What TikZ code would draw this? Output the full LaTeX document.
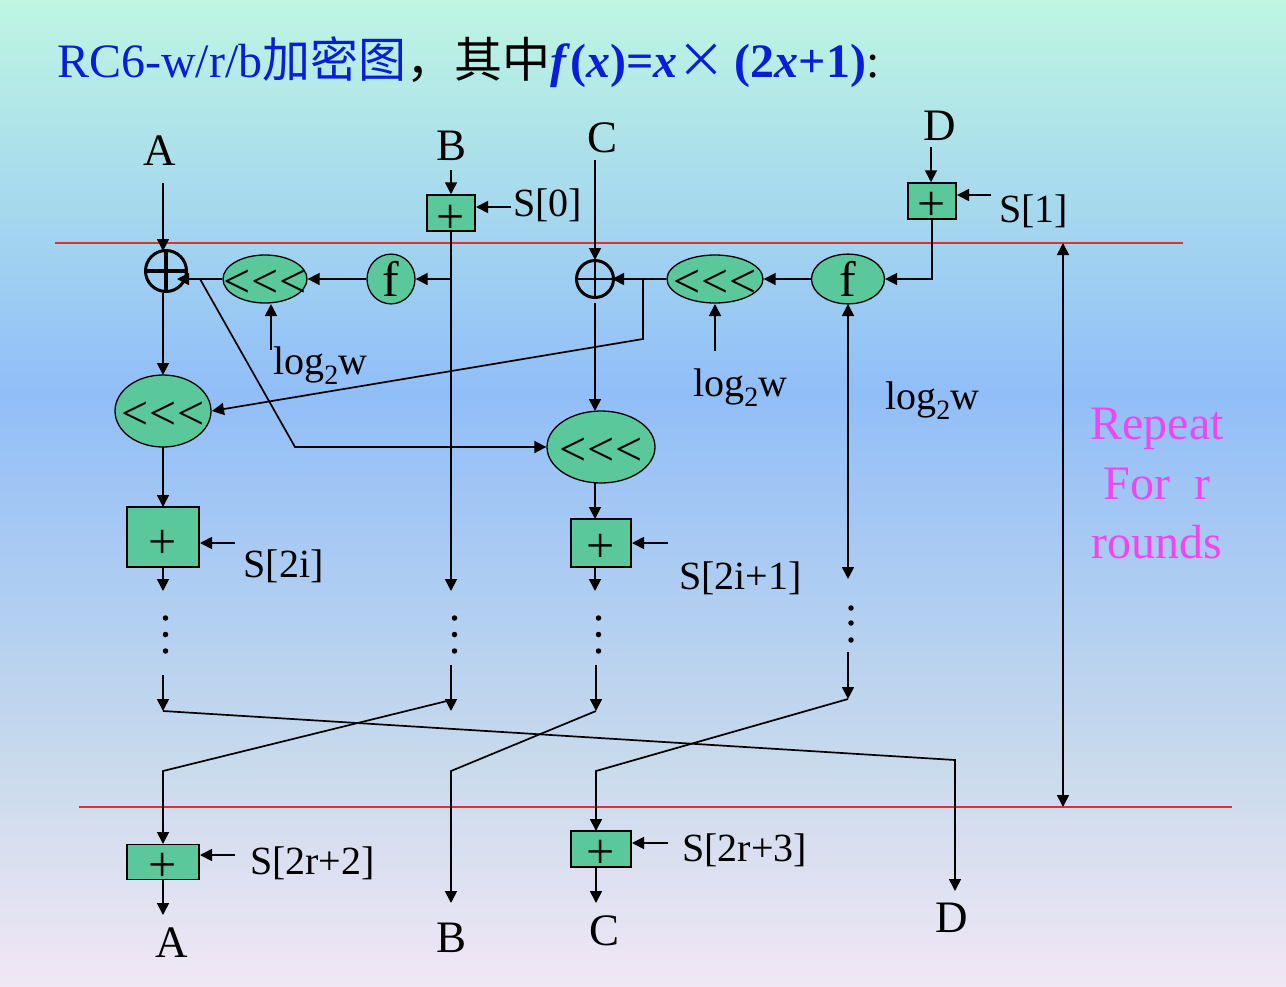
\documentclass[tikz,border=0pt]{standalone}
\usepackage{fontspec}
\setmainfont{Liberation Serif}[Ligatures=NoCommon]
\newfontfamily\cjk{Noto Sans CJK SC}
\usetikzlibrary{arrows.meta,shapes.geometric}
\definecolor{bgtop}{RGB}{190,246,226}
\definecolor{bgmid}{RGB}{145,190,248}
\definecolor{bglow}{RGB}{200,218,236}
\definecolor{bgbot}{RGB}{241,231,245}
\definecolor{fillgreen}{RGB}{90,200,155}
\definecolor{titleblue}{RGB}{10,30,215}
\definecolor{rulered}{RGB}{220,50,50}
\definecolor{pinkish}{RGB}{240,70,240}
\newcommand{\fs}[1]{\fontsize{#1}{#1}\selectfont}
\newcommand{\rot}{\makebox[0pt]{\smash{\raisebox{-18pt}{{<}\kern1pt{<}\kern1pt{<}}}}}
\newcommand{\plusmark}[1]{\smash{\raisebox{#1pt}{+}}}
\tikzset{
  x=1pt,y=-1pt,
  conn/.style={draw=black,line width=1.7pt},
  arr/.style={conn,-{Triangle[length=12pt,width=12pt]}},
  darr/.style={conn,{Triangle[length=12pt,width=12pt]}-{Triangle[length=12pt,width=12pt]}},
  rulerline/.style={draw=rulered,line width=1.3pt},
  addbox/.style={draw=black,line width=1.5pt,fill=fillgreen,rectangle,inner sep=0pt,font=\fs{50}},
  oval/.style={draw=black,line width=1.3pt,fill=fillgreen,ellipse,inner sep=0pt,font=\fs{48}},
  ffn/.style={oval,font=\fs{50}},
  xorc/.style={draw=black,circle,inner sep=0pt},
  lbl/.style={inner sep=0pt,font=\fs{45},xshift=0.5pt,yshift=-0.5pt},
  slbl/.style={inner sep=0pt,font=\fs{40},xshift=0.5pt,yshift=-0.5pt},
  rep/.style={inner sep=0pt,font=\fs{48},text=pinkish},
  dotsn/.style={inner sep=0pt,circle,fill=black,minimum size=5.5pt},
}
\begin{document}
\begin{tikzpicture}
\useasboundingbox (0,0) rectangle (1286,986);
\shade[top color=bgtop,bottom color=bgmid,draw=none] (0,0) rectangle (1286,392);
\shade[top color=bgmid,bottom color=bglow,draw=none] (0,391) rectangle (1286,761);
\shade[top color=bglow,bottom color=bgbot,draw=none] (0,760) rectangle (1286,986);

% title
\node[anchor=base west,inner sep=0pt,font=\fs{48},text=titleblue] (title) at (57,77)
  {RC6-w/r/b{\cjk\fs{48}加密图}{\cjk\fs{48}\color{black}，其中}\textbf{\textit{f}(\textit{x})=\textit{x}}{\cjk\fs{48}×} \hspace{-3pt}\textbf{(2\textit{x}+1)}{\color{black}:}};

% rules
\coordinate (r1a) at (55,243); \coordinate (r1b) at (1183,243);
\coordinate (r2a) at (79,807); \coordinate (r2b) at (1232,807);
\draw[rulerline] (r1a) -- (r1b);
\draw[rulerline] (r2a) -- (r2b);

% labels
\node[lbl] (tA) at (159,150) {A};
\node[lbl] (tB) at (451,145) {B};
\node[lbl] (tC) at (602,137) {C};
\node[lbl] (tD) at (939,125) {D};
\node[lbl] (bA) at (171,942) {A};
\node[lbl] (bB) at (451,937) {B};
\node[lbl] (bC) at (604,930) {C};
\node[lbl] (bD) at (951,917) {D};
\node[slbl] (s0) at (547,205) {S[0]};
\node[slbl] (s1) at (1033,211) {S[1]};
\node[slbl] (s2i) at (283,566) {S[2i]};
\node[slbl] (s2i1) at (740,578) {S[2i+1]};
\node[slbl] (s2r2) at (312,863) {S[2r+2]};
\node[slbl] (s2r3) at (744,850) {S[2r+3]};
\node[slbl] (lg1) at (320,365) {log\textsubscript{2}w};
\node[slbl] (lg2) at (740,387) {log\textsubscript{2}w};
\node[slbl] (lg3) at (932,400) {log\textsubscript{2}w};
\node[rep] (rp1) at (1157,429) {Repeat};
\node[rep] (rp2) at (1157,484) {For\ \ r};
\node[rep] (rp3) at (1157,542) {rounds};

% boxes
\node[addbox,minimum width=48pt,minimum height=36pt] (b0) at (451,213) {\plusmark{-20}};
\node[addbox,minimum width=48pt,minimum height=36pt] (b1) at (932,201) {\plusmark{-19}};
\node[addbox,minimum width=72pt,minimum height=60pt] (b2i) at (163,537) {\plusmark{-21}};
\node[addbox,minimum width=60pt,minimum height=48pt] (b2i1) at (601,543) {\plusmark{-19}};
\node[addbox,minimum width=72pt,minimum height=35pt] (b2r2) at (163,862) {\plusmark{-19}};
\node[addbox,minimum width=60pt,minimum height=36pt] (b2r3) at (601,849) {\plusmark{-19}};

% ovals
\node[oval,minimum width=84pt,minimum height=48pt] (rot1) at (265,279) {\rot};
\node[oval,minimum width=96pt,minimum height=48pt] (rot2) at (715,279) {\rot};
\node[oval,minimum width=96pt,minimum height=72pt] (rot3) at (163,411) {\rot};
\node[oval,minimum width=108pt,minimum height=72pt] (rot4) at (601,447) {\rot};
\node[ffn,minimum width=48pt,minimum height=48pt] (f1) at (391,279) {f};
\node[ffn,minimum width=73pt,minimum height=48pt] (f2) at (848,279) {f};

% xor circles
\node[xorc,line width=3pt,minimum size=41pt] (x1) at (166,271) {};
\draw[line width=3.2pt,shorten <=2pt,shorten >=2pt] (x1.west) -- (x1.east);
\draw[line width=3.2pt,shorten <=3pt,shorten >=3pt] (x1.north) -- (x1.south);
\node[xorc,line width=3pt,minimum size=37pt] (x2) at (595,279) {};
\draw[line width=2.8pt] (x2.west) -- (x2.east);
\draw[line width=2.8pt] (x2.north) -- (x2.south);

% free ends
\coordinate (aS) at (163,183);
\coordinate (aE) at (163,251);
\coordinate (bS) at (451,170);
\coordinate (cS) at (595,160);
\coordinate (dS) at (931,147);
\coordinate (s0a) at (511,207);
\coordinate (s0b) at (476,207);
\coordinate (s1a) at (991,195);
\coordinate (s1b) at (957,195);
\coordinate (s2a) at (235,543);
\coordinate (s2b) at (200,543);
\coordinate (s3a) at (668,543);
\coordinate (s3b) at (632,543);
\coordinate (s4a) at (235,855);
\coordinate (s4b) at (200,855);
\coordinate (s5a) at (668,843);
\coordinate (s5b) at (632,843);
\coordinate (j1) at (451,279);
\coordinate (j2) at (932,279);
\coordinate (br1) at (200,279);
\coordinate (br1b) at (295,447);
\coordinate (br2) at (643,279);
\coordinate (br2b) at (643,339);
\coordinate (lg1a) at (271,350);
\coordinate (lg1b) at (271,304);
\coordinate (lg2a) at (715,351);
\coordinate (lg2b) at (715,304);
\coordinate (x1in) at (177,279);
\coordinate (x2in) at (612,279);
\coordinate (x1out) at (163,293);
\coordinate (rot3in) at (163,375);
\coordinate (rot3out) at (163,447);
\coordinate (b2iin) at (163,507);
\coordinate (b2iout) at (163,567);
\coordinate (d1) at (163,591);
\coordinate (e1s) at (163,675);
\coordinate (e1e) at (163,711);
\coordinate (k1) at (955,760);
\coordinate (k1e) at (955,891);
\coordinate (b0e) at (451,591);
\coordinate (e2s) at (451,665);
\coordinate (e2e) at (451,711);
\coordinate (e2t) at (451,700);
\coordinate (k2) at (163,771);
\coordinate (k2e) at (163,844);
\coordinate (b2r2o) at (163,879);
\coordinate (a2e) at (163,915);
\coordinate (x2top) at (595,260);
\coordinate (x2out) at (595,303);
\coordinate (rot4in) at (595,411);
\coordinate (rot4out) at (595,483);
\coordinate (b3in) at (595,519);
\coordinate (b3out) at (595,567);
\coordinate (d3) at (595,591);
\coordinate (e3s) at (596,665);
\coordinate (e3e) at (596,711);
\coordinate (k3) at (451,771);
\coordinate (k3e) at (451,903);
\coordinate (f2s) at (848,304);
\coordinate (f2e) at (848,579);
\coordinate (e4s) at (848,652);
\coordinate (e4e) at (848,699);
\coordinate (k4) at (596,771);
\coordinate (k4e) at (596,831);
\coordinate (c2o) at (596,867);
\coordinate (c2e) at (596,903);
\coordinate (w1) at (1063,243);
\coordinate (w2) at (1063,807);
\coordinate (rot3r) at (212,411);

% connectors
\draw[arr] (aS) -- (aE);
\draw[arr] (bS) -- (b0.north);
\draw[arr] (cS) -- (x2top);
\draw[arr] (dS) -- (b1.north -| dS);
\draw[arr] (s0a) -- (s0b);
\draw[arr] (s1a) -- (s1b);
\draw[arr] (s2a) -- (s2b);
\draw[arr] (s3a) -- (s3b);
\draw[arr] (s4a) -- (s4b);
\draw[arr] (s5a) -- (s5b);
\draw[arr] (b0.south) -- (b0e);
\draw[arr] (j1) -- (f1.east);
\draw[arr] (f1.west) -- (rot1.east);
\draw[arr] (rot1.west) -- (x1in);
\draw[arr] (lg1a) -- (lg1b);
\draw[arr] (br1) -- (br1b) -- (rot4.west);
\draw[arr] (x1out) -- (rot3in);
\draw[arr] (rot3out) -- (b2iin);
\draw[arr] (b2iout) -- (d1);
\draw[arr] (e1s) -- (e1e);
\draw[arr] (e1e) -- (k1) -- (k1e);
\draw[arr] (e2s) -- (e2e);
\draw[arr] (e2t) -- (k2) -- (k2e);
\draw[arr] (b2r2o) -- (a2e);
\draw[arr] (b1.south) -- (j2) -- (f2.east);
\draw[arr] (f2.west) -- (rot2.east);
\draw[arr] (rot2.west) -- (x2in);
\draw[arr] (lg2a) -- (lg2b);
\draw[arr] (br2) -- (br2b) -- (rot3r);
\draw[arr] (x2out) -- (rot4in);
\draw[arr] (rot4out) -- (b3in);
\draw[arr] (b3out) -- (d3);
\draw[arr] (e3s) -- (e3e);
\draw[arr] (e3e) -- (k3) -- (k3e);
\draw[darr] (f2s) -- (f2e);
\draw[arr] (e4s) -- (e4e);
\draw[arr] (e4e) -- (k4) -- (k4e);
\draw[arr] (c2o) -- (c2e);
\draw[darr] (w1) -- (w2);

% vertical dots
\foreach \n/\xx/\yy in {a/165.5/618,b/165.5/634.5,c/165.5/651,d/454.5/618,e/454.5/634.5,f/454.5/651,g/598.5/618,h/598.5/634.5,i/598.5/651,j/851/608,k/851/623,l/851/640}
  \node[dotsn] (dot\n) at (\xx,\yy) {};
\end{tikzpicture}
\end{document}
